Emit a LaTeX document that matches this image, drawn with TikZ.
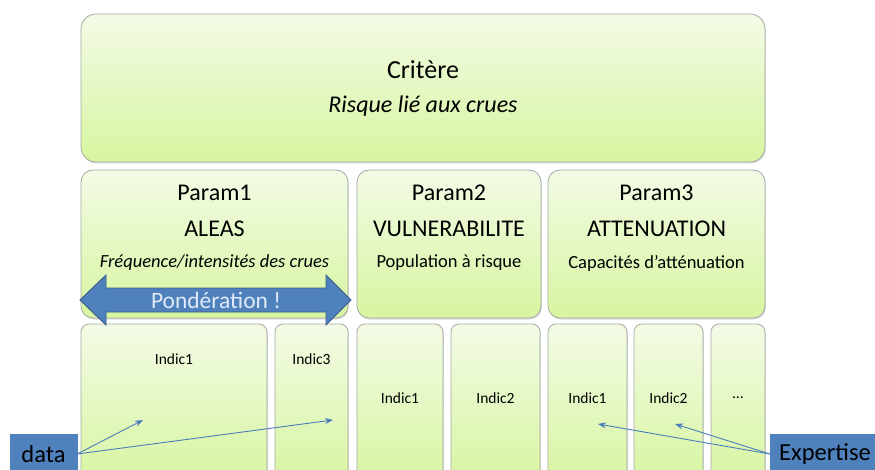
\documentclass[tikz,border=0pt]{standalone}
\usepackage{fontspec}
\setmainfont{Carlito}
\usetikzlibrary{arrows.meta,shadows}
\definecolor{boxtop}{RGB}{243,251,230}
\definecolor{boxbot}{RGB}{215,245,160}
\definecolor{boxline}{RGB}{165,170,165}
\definecolor{accent}{RGB}{79,129,189}
\definecolor{accentdark}{RGB}{56,93,138}
\definecolor{link}{RGB}{74,126,187}
\definecolor{pale}{RGB}{225,235,248}
\begin{document}
\begin{tikzpicture}[x=1pt,y=-1pt,
  panel/.style={draw=boxline, line width=0.8pt, top color=boxtop, bottom color=boxbot,
    inner sep=0pt, drop shadow={shadow xshift=0.8pt, shadow yshift=-1.5pt, opacity=0.3}},
  bigpanel/.style={panel, rounded corners=15pt},
  midpanel/.style={panel, rounded corners=12pt},
  smallpanel/.style={panel, rounded corners=8pt},
  tag/.style={fill=accent, draw=accent, inner sep=0pt, minimum height=40pt,
    font=\fontsize{24.5}{28}\selectfont},
  big/.style={font=\fontsize{26}{30}\selectfont},
  mid/.style={font=\fontsize{24}{28}\selectfont},
  small/.style={font=\fontsize{18.5}{22}\selectfont},
  tiny/.style={font=\fontsize{15.5}{18}\selectfont},
  link/.style={draw=link, line width=0.9pt, -{Stealth[length=8pt,width=6pt]}}]
\useasboundingbox (0,0) rectangle (875,470);
\clip (0,0) rectangle (875,470);

% criterion
\node[bigpanel, minimum width=684pt, minimum height=148pt] (crit) at (423,88) {};
\node[big] (critT) at (423,70) {Critère};
\node[font=\fontsize{24}{28}\selectfont\itshape] (critS) at (423,106) {Risque lié aux crues};

% parameters
\node[midpanel, minimum width=267pt, minimum height=148pt] (p1) at (214.5,244) {};
\node[midpanel, minimum width=184pt, minimum height=148pt] (p2) at (449,244) {};
\node[midpanel, minimum width=217pt, minimum height=148pt] (p3) at (656.5,244) {};

\node[mid] (p1a) at (214.5,193) {Param1};
\node[mid] (p1b) at (214.5,229) {ALEAS};
\node[font=\fontsize{18.5}{22}\selectfont\itshape] (p1c) at (214.5,263) {Fréquence/intensités des crues};
\node[mid] (p2a) at (449,193) {Param2};
\node[mid] (p2b) at (449,229) {VULNERABILITE};
\node[small] (p2c) at (449,263) {Population à risque};
\node[mid] (p3a) at (656.5,193) {Param3};
\node[mid] (p3b) at (656.5,229) {ATTENUATION};
\node[small] (p3c) at (656.5,263) {Capacités d’atténuation};

% indicators
\node[smallpanel, minimum width=186pt, minimum height=160pt] (i1) at (174,404) {};
\node[smallpanel, minimum width=73pt, minimum height=160pt] (i3) at (311.5,404) {};
\node[smallpanel, minimum width=86pt, minimum height=160pt] (j1) at (400,404) {};
\node[smallpanel, minimum width=89pt, minimum height=160pt] (j2) at (495.5,404) {};
\node[smallpanel, minimum width=79pt, minimum height=160pt] (k1) at (587.5,404) {};
\node[smallpanel, minimum width=69pt, minimum height=160pt] (k2) at (668.5,404) {};
\node[smallpanel, minimum width=54pt, minimum height=160pt] (k3) at (738,404) {};

\node[tiny] (i1t) at (174,359) {Indic1};
\node[tiny] (i3t) at (311.5,359) {Indic3};
\node[tiny] (j1t) at (400,398) {Indic1};
\node[tiny] (j2t) at (495.5,398) {Indic2};
\node[tiny] (k1t) at (587.5,398) {Indic1};
\node[tiny] (k2t) at (668.5,398) {Indic2};
\node[tiny] (k3t) at (738,398) {…};

% weighting double arrow
\draw[fill=accent, draw=accentdark, line width=0.9pt, line join=miter]
  (80,300) -- (106,275) -- (106,288) -- (326,288) -- (326,275) -- (351,300)
  -- (326,325) -- (326,312) -- (106,312) -- (106,325) -- cycle;
\node[font=\fontsize{23.5}{27}\selectfont, text=pale] (pond) at (216,300) {Pondération !};

% sources
\node[tag, minimum width=67pt] (data) at (43.5,454) {data};
\node[tag, minimum width=110pt] (exp) at (825,454) {Expertise};

\coordinate (d1) at (143,420);
\coordinate (d3) at (333,420);
\coordinate (e1) at (598,424);
\coordinate (e2) at (675,424);
\draw[link] (data.east) -- (d1);
\draw[link] (data.east) -- (d3);
\draw[link] (exp.west) -- (e1);
\draw[link] (exp.west) -- (e2);
\end{tikzpicture}
\end{document}
